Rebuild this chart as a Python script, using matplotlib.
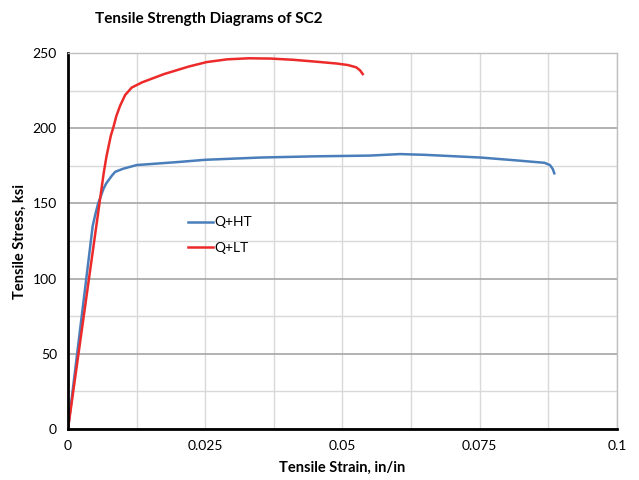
import matplotlib
matplotlib.use("Agg")
from matplotlib import pyplot as plt
from matplotlib.ticker import MultipleLocator

# stress-strain points
strain_ht = [0, 0.0045, 0.005, 0.0055, 0.006, 0.0065, 0.007, 0.0075, 0.008, 0.0086, 0.010,
             0.0125, 0.020, 0.025, 0.035, 0.045, 0.055, 0.0605, 0.065, 0.0752, 0.082,
             0.0868, 0.0878, 0.0883, 0.0886]
stress_ht = [0, 135, 143, 150, 155, 160, 163.5, 166, 168.5, 171, 173,
             175.5, 177.5, 179, 180.5, 181.3, 181.8, 182.8, 182.3, 180.5, 178.5,
             177, 175.5, 173, 170]

strain_lt = [0, 0.0065, 0.007, 0.0078, 0.0083, 0.0088, 0.0095, 0.0104, 0.0116, 0.0135,
             0.0175, 0.022, 0.0253, 0.029, 0.033, 0.037, 0.041, 0.045, 0.049, 0.051,
             0.0525, 0.0532, 0.0537]
stress_lt = [0, 170, 181, 195, 201, 208, 215, 222, 227, 230.5,
             236, 241, 244, 245.8, 246.5, 246.3, 245.5, 244.3, 243, 242,
             240.5, 238.5, 236]

labels = ["Q+HT", "Q+LT"]
xticks = [0, 0.025, 0.05, 0.075, 0.1]
xticklabels = ["0", "0.025", "0.05", "0.075", "0.1"]
yticks = [0, 50, 100, 150, 200, 250]

plt.rcParams['font.family'] = ['Lato', 'DejaVu Sans']

fig = plt.figure(figsize=(6.39, 4.8), dpi=100)
ax = fig.add_axes([0.1064, 0.10625, 0.859, 0.7833])

ax.plot(strain_ht, stress_ht, color='#4a7ebb', lw=1.8, label=labels[0])
ax.plot(strain_lt, stress_lt, color='#ec2a2a', lw=1.8, label=labels[1])

ax.set_xlim(0, 0.1)
ax.set_ylim(0, 250)
ax.set_xticks(xticks)
ax.set_xticklabels(xticklabels)
ax.set_yticks(yticks)
ax.xaxis.set_minor_locator(MultipleLocator(0.0125))
ax.yaxis.set_minor_locator(MultipleLocator(25))

# grid like the excel chart
ax.grid(which='major', axis='y', color='#a6a6a6', lw=1.2)
ax.grid(which='minor', axis='y', color='#d9d9d9', lw=1.0)
ax.grid(which='both', axis='x', color='#d9d9d9', lw=1.0)
ax.set_axisbelow(True)

ax.tick_params(which='both', length=0, labelsize=10, pad=8)
for s in ['left', 'bottom']:
	ax.spines[s].set_color('black')
	ax.spines[s].set_linewidth(2)
for s in ['top', 'right']:
	ax.spines[s].set_color('#bfbfbf')
	ax.spines[s].set_linewidth(1)

ax.legend(loc='center left', bbox_to_anchor=(0.195, 0.515), frameon=False,
          fontsize=10, handlelength=1.8, handletextpad=0.1, labelspacing=1.0)

ax.set_xlabel("Tensile Strain, in/in", fontweight='bold', fontsize=10.5, labelpad=6)
ax.set_ylabel("Tensile Stress, ksi", fontweight='bold', fontsize=10.5, labelpad=4)
fig.text(0.326, 0.96, "Tensile Strength Diagrams of SC2", ha='center', va='center',
         fontweight='bold', fontsize=11)

fig.savefig("out.png", dpi=100)
